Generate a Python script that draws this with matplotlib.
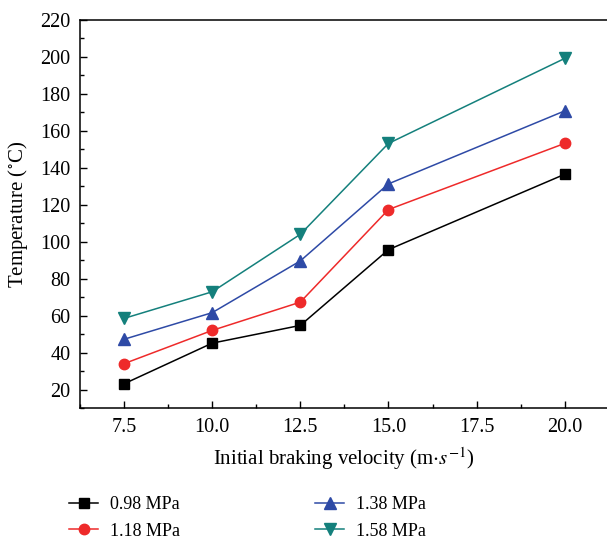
import numpy as np
import matplotlib
matplotlib.use('Agg')
from matplotlib import pyplot as plt
from matplotlib.ticker import MultipleLocator

plt.rcParams['font.family'] = 'Liberation Serif'
plt.rcParams['mathtext.fontset'] = 'stix'

velocity = [7.5, 10.0, 12.5, 15.0, 20.0]
p098 = [23.1, 45.1, 54.7, 95.7, 136.5]
p118 = [34.0, 52.0, 67.3, 117.4, 153.2]
p138 = [47.2, 61.6, 89.6, 131.3, 170.8]
p158 = [58.5, 72.9, 104.0, 153.2, 199.2]
labels = ['0.98 MPa', '1.18 MPa', '1.38 MPa', '1.58 MPa']

fig = plt.figure(figsize=(6.07, 5.43), dpi=100)
ax = fig.add_axes([80 / 607, 135 / 543, 1 - 80 / 607, 388 / 543])

ax.plot(velocity, p098, '-s', color='black', lw=1.1, ms=7, label=labels[0])
ax.plot(velocity, p118, '-o', color='#ee2a2a', lw=1.1, ms=7.5, label=labels[1])
ax.plot(velocity, p138, '-^', color='#2e4aa6', lw=1.1, ms=9, label=labels[2])
ax.plot(velocity, p158, '-v', color='#14807c', lw=1.1, ms=9, label=labels[3])

ax.set_xlim(6.25, 21.2)
ax.set_ylim(10, 220)
ax.set_xticks([7.5, 10.0, 12.5, 15.0, 17.5, 20.0])
ax.set_xticklabels(['7.5', '10.0', '12.5', '15.0', '17.5', '20.0'])
ax.xaxis.set_minor_locator(MultipleLocator(1.25))
ax.set_yticks(np.arange(20, 221, 20))
ax.yaxis.set_minor_locator(MultipleLocator(10))
ax.tick_params(which='both', direction='in', labelsize=14.5, width=1)
ax.tick_params(which='major', length=5, pad=7)
ax.tick_params(which='minor', length=3)
ax.spines['right'].set_visible(False)
for s in ['left', 'top', 'bottom']:
    ax.spines[s].set_linewidth(1.1)

ax.set_xlabel('Initial braking velocity (m$\\cdot$$s^{-1}$)', fontsize=15, labelpad=6)
ax.set_ylabel('Temperature ($^{\\circ}$C)', fontsize=15, labelpad=7)

fig.legend(loc='lower left', bbox_to_anchor=(53 / 607, -0.024), ncol=2, frameon=False,
           fontsize=13, handlelength=1.6, handletextpad=0.65, columnspacing=7.5,
           labelspacing=0.55)

fig.savefig('out.png', dpi=100)
